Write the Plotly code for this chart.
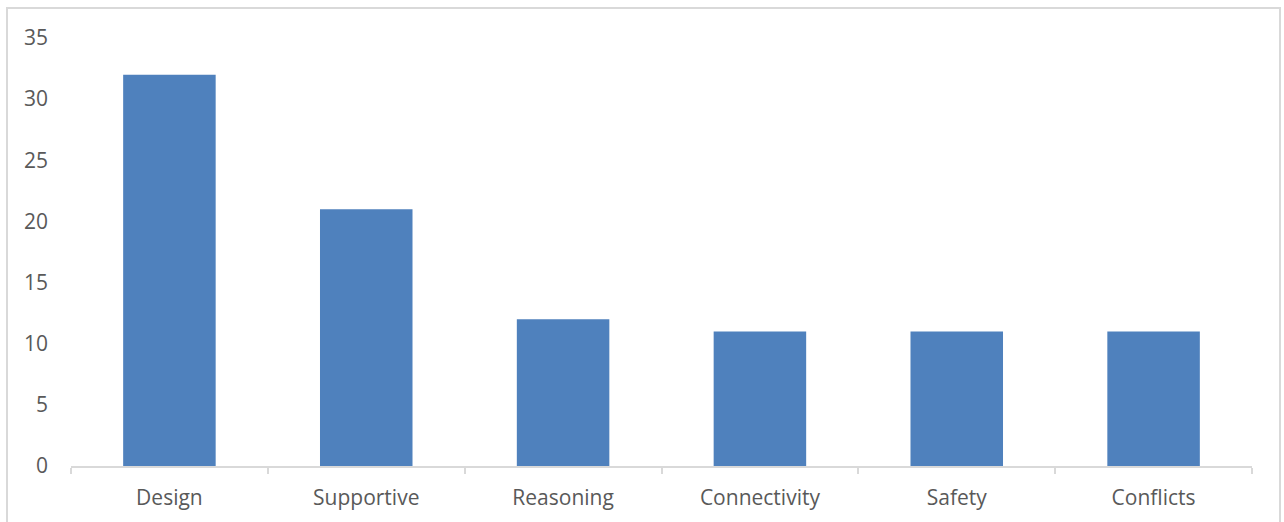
import plotly.graph_objects as go

categories = ["Design", "Supportive", "Reasoning", "Connectivity", "Safety", "Conflicts"]
counts = [32, 21, 12, 11, 11, 11]
y_ticks = [0, 5, 10, 15, 20, 25, 30, 35]

axis_grey = "#d9d9d9"
label_grey = "#595959"
bar_blue = "#4f81bd"

fig = go.Figure(
    go.Bar(
        x=categories,
        y=counts,
        marker=dict(color=bar_blue, line=dict(width=0)),
        width=0.47,
    )
)

fig.update_layout(
    width=1284,
    height=522,
    margin=dict(l=71, r=32, t=38, b=56),
    paper_bgcolor="white",
    plot_bgcolor="white",
    showlegend=False,
    font=dict(family="Open Sans", size=21, color=label_grey),
)

fig.update_xaxes(
    showline=True,
    linecolor=axis_grey,
    linewidth=1.5,
    ticks="outside",
    tickson="boundaries",
    ticklen=6,
    tickcolor=axis_grey,
    tickwidth=1.5,
    showgrid=False,
    ticklabelstandoff=12,
    tickfont=dict(size=21, color=label_grey),
)

fig.update_yaxes(
    range=[0, 35],
    tickvals=y_ticks,
    showline=False,
    showgrid=False,
    zeroline=False,
    ticks="",
    ticklabelstandoff=22,
    tickfont=dict(size=21, color=label_grey),
)

# chart frame
fig.add_shape(
    type="rect",
    xref="paper",
    yref="paper",
    x0=-64 / 1181,
    x1=1.0 + 28 / 1181,
    y0=-0.2,
    y1=1.0 + 30 / 428,
    line=dict(color=axis_grey, width=2),
    fillcolor="rgba(0,0,0,0)",
    layer="below",
)

fig.write_html("out.html")
